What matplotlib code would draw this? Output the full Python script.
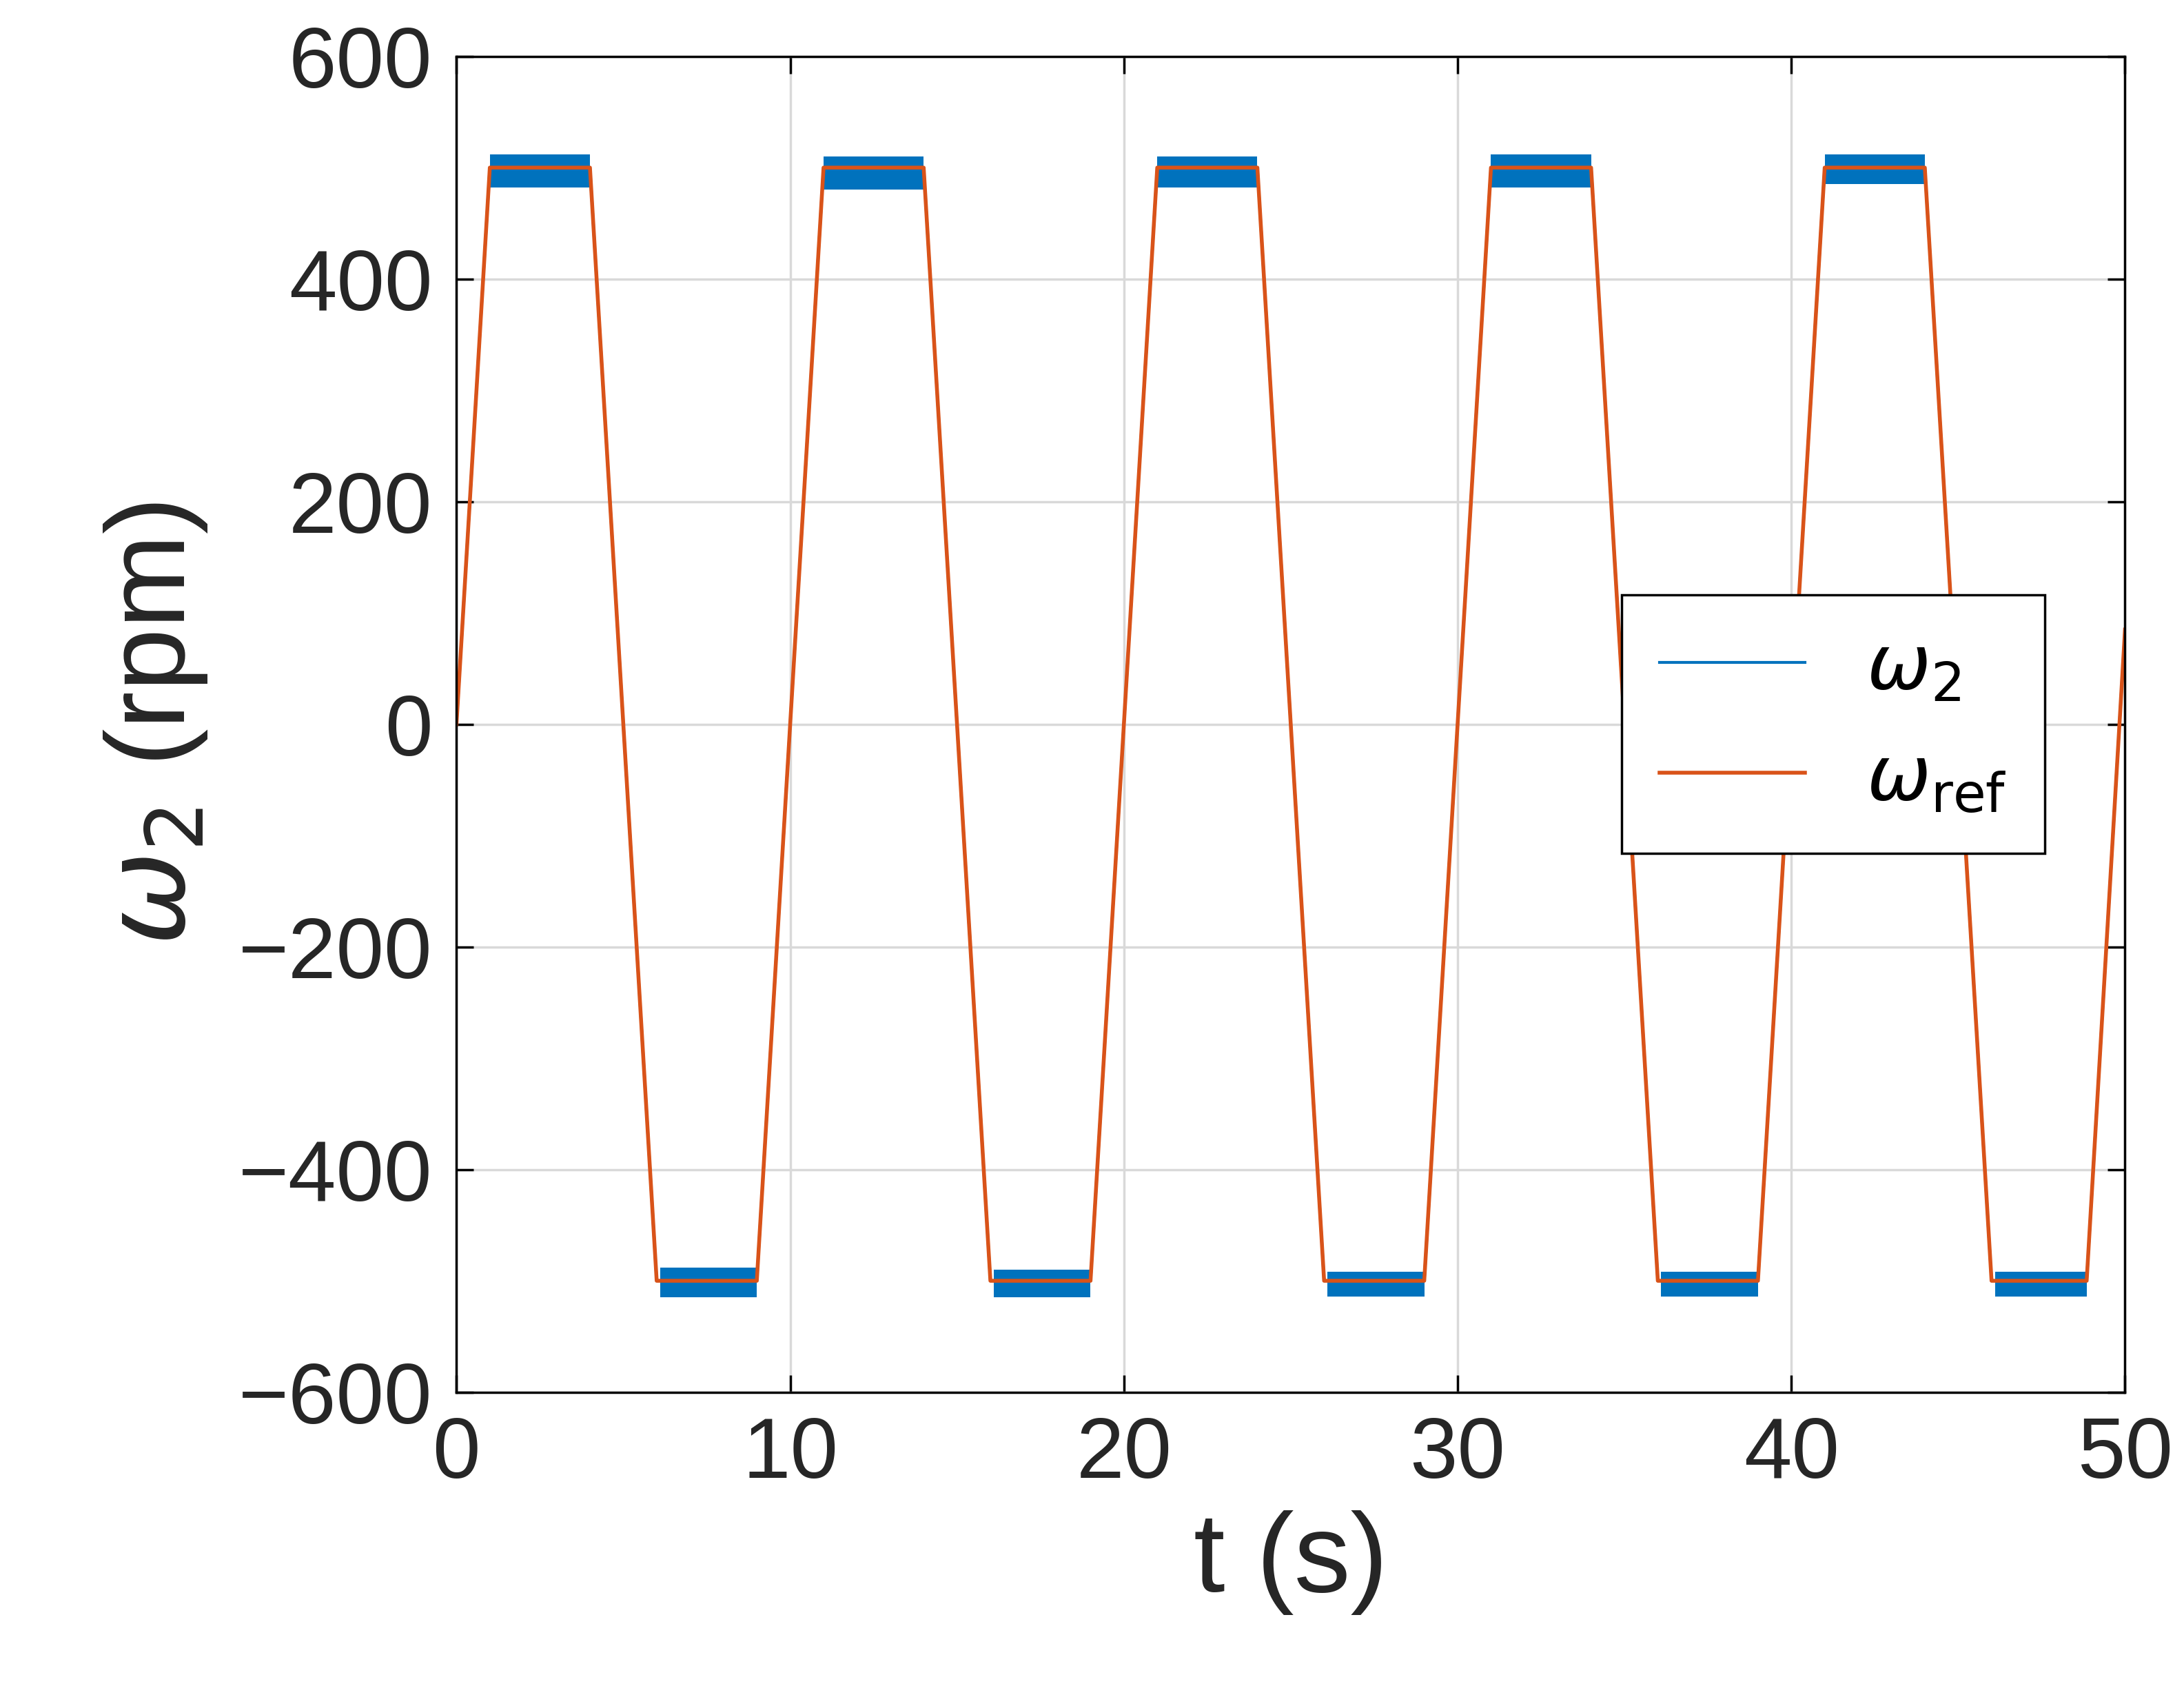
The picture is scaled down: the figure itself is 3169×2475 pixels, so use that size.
import matplotlib
matplotlib.use("Agg")
import matplotlib.pyplot as plt

# reference trajectory breakpoints
t_ref = [0, 1, 4, 6, 9, 11, 14, 16, 19, 21, 24, 26, 29, 31, 34, 36, 39, 41, 44, 46, 48.85, 50]
w_ref = [0, 500, 500, -500, -500, 500, 500, -500, -500, 500, 500, -500, -500, 500, 500, -500, -500, 500, 500, -500, -500, 85]
# plateaus of measured speed: start, end, level, band low, band high
plat_start = [1, 6.1, 11, 16.1, 21, 26.1, 31, 36.1, 41, 46.1]
plat_end = [4, 9, 14, 19, 24, 29, 34, 39, 44, 48.85]
plat_level = [500, -500, 500, -500, 500, -500, 500, -500, 500, -500]
band_lo = [-18, -15, -20, -15, -18, -14, -18, -14, -15, -14]
band_hi = [12, 12, 10, 10, 10, 8, 12, 8, 12, 8]

plt.rcParams['font.family'] = ['Liberation Sans', 'DejaVu Sans']
fig = plt.figure(figsize=(31.69, 24.75), dpi=100)
ax = fig.add_axes([0.209, 0.184, 0.764, 0.783])
blue = '#0072BD'; orange = '#D95319'
ax.plot(t_ref, w_ref, color=blue, lw=3, label=r'$\omega_2$')
for s, e, l, lo, hi in zip(plat_start, plat_end, plat_level, band_lo, band_hi):
    ax.fill_between([s, e], [l + lo] * 2, [l + hi] * 2, color=blue, lw=0)
ax.plot(t_ref, w_ref, color=orange, lw=4, label=r'$\omega_{\rm ref}$')
ax.set_xlim(0, 50)
ax.set_ylim(-600, 600)
ax.set_xticks(range(0, 51, 10))
ax.set_yticks(range(-600, 601, 200))
ax.set_yticklabels([str(v).replace('-', '\u2212') for v in range(-600, 601, 200)])
ax.grid(True, color='#d9d9d9', lw=2.5)
ax.tick_params(labelsize=90, length=18, width=2.5, direction='in', pad=25, top=True, right=True,
               labelcolor='#262626')
for sp in ax.spines.values():
    sp.set_linewidth(2.5)
ax.set_xlabel('t (s)', fontsize=118, labelpad=15, color='#262626')
ax.set_ylabel(r'$\omega_2$ (rpm)', fontsize=118, labelpad=30, color='#262626')
leg = ax.legend(loc='center right', bbox_to_anchor=(0.975, 0.5), fontsize=80, fancybox=False,
                framealpha=1, edgecolor='black', handlelength=1.9, borderpad=0.5)
leg.get_frame().set_linewidth(2.5)
fig.savefig('out.png', dpi=100)
